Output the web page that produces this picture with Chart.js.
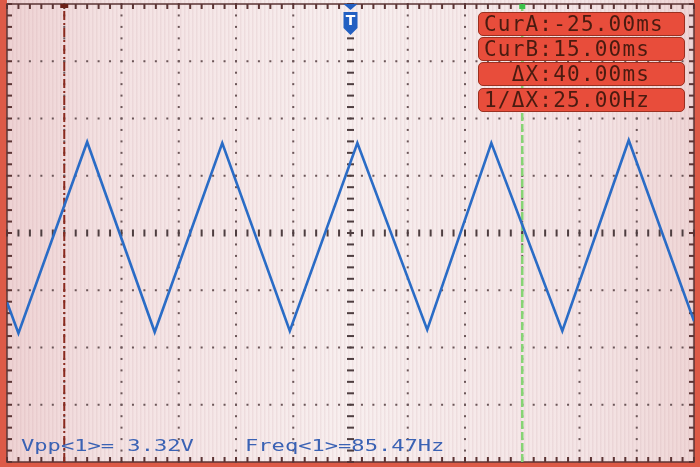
<!DOCTYPE html>
<html>
<head>
<meta charset="utf-8">
<script src="https://cdn.jsdelivr.net/npm/chart.js@4.4.0/dist/chart.umd.min.js"></script>
<style>
html, body { margin: 0; padding: 0; background: #dd5a47; }
#wrap { position: relative; width: 700px; height: 467px; overflow: hidden; }
#scope { position: absolute; left: 0; top: 0; }
.readout {
    position: absolute; left: 478px; width: 207px; height: 24px;
    background: #e84d3b; border: 1px solid #9a3020; border-radius: 5px;
    box-sizing: border-box; padding-left: 5px;
    font-family: 'DejaVu Sans Mono', monospace; font-size: 21px; line-height: 23px;
    letter-spacing: 1.2px; color: #4a1b10; white-space: pre;
}
.meas {
    position: absolute; top: 437px;
    font-family: 'DejaVu Sans Mono', monospace; font-size: 16px; line-height: 18px;
    color: #3a62b4; white-space: pre; transform-origin: left top; transform: scaleX(1.38);
}
</style>
</head>
<body>
<div id="wrap">
    <canvas id="scope" width="700" height="467"></canvas>
</div>
<script>
// --- data (time in ms, CH1 in volts, 5 ms/div, 1 V/div) ---
const timeMs   = [-30, -29.0, -23.0, -17.1, -11.2, -5.3, 0.6, 6.7, 12.3, 18.5, 24.3, 30];
const ch1Volts = [-1.21, -1.75, 1.59, -1.73, 1.57, -1.71, 1.57, -1.69, 1.57, -1.71, 1.62, -1.54];

const cursorA = -25;   // ms
const cursorB = 15;    // ms
const triggerPos = 0;  // ms

const readouts = ['CurA:-25.00ms', 'CurB:15.00ms', '  ΔX:40.00ms', '1/ΔX:25.00Hz'];
const readoutTops = [12, 37, 62, 88];
const measures = ['Vpp<1>= 3.32V', 'Freq<1>=85.47Hz'];
const measureLefts = [21, 245];

// readout boxes + measurement text
const wrap = document.getElementById('wrap');
readouts.forEach((txt, i) => {
    const d = document.createElement('div');
    d.className = 'readout';
    d.style.top = readoutTops[i] + 'px';
    d.textContent = txt;
    wrap.appendChild(d);
});
measures.forEach((txt, i) => {
    const d = document.createElement('div');
    d.className = 'meas';
    d.style.left = measureLefts[i] + 'px';
    d.textContent = txt;
    wrap.appendChild(d);
});

// graticule, background, trigger marker
const graticule = {
    id: 'graticule',
    beforeDraw(chart) {
        const { ctx, chartArea: a } = chart;
        ctx.save();
        ctx.fillStyle = '#dd5a47';
        ctx.fillRect(0, 0, chart.width, chart.height);
        const g = ctx.createLinearGradient(a.left, 0, a.right, 0);
        g.addColorStop(0, '#eed2d3');
        g.addColorStop(0.15, '#f4e2e3');
        g.addColorStop(0.5, '#f8efef');
        g.addColorStop(0.85, '#f4e4e5');
        g.addColorStop(1, '#efd6d6');
        ctx.fillStyle = g;
        ctx.fillRect(a.left, 0, a.right - a.left, a.bottom);
        // photo moire stripes
        ctx.fillStyle = 'rgba(185,140,150,0.13)';
        for (let x = a.left + 1; x < a.right; x += 4) ctx.fillRect(x, 0, 1.5, a.bottom);
        ctx.restore();
    },
    beforeDatasetsDraw(chart) {
        const { ctx, chartArea: a, scales: { x, y } } = chart;
        ctx.save();
        // dotted major lines
        ctx.fillStyle = '#6b5658';
        for (let t = -25; t <= 25; t += 5) {
            if (t === 0) continue;
            const px = x.getPixelForValue(t);
            for (let v = -4; v <= 4.001; v += 0.2) {
                ctx.fillRect(px - 1, y.getPixelForValue(v) - 1, 2, 2);
            }
        }
        for (let v = -3; v <= 3; v += 1) {
            if (v === 0) continue;
            const py = y.getPixelForValue(v);
            for (let t = -30; t <= 30.001; t += 1) {
                ctx.fillRect(x.getPixelForValue(t) - 1, py - 1, 2, 2);
            }
        }
        // centre axes with small ticks
        ctx.fillStyle = '#4e3e40';
        const cx = x.getPixelForValue(0), cy = y.getPixelForValue(0);
        for (let v = -4; v <= 4.001; v += 0.2) {
            ctx.fillRect(cx - 3.5, y.getPixelForValue(v) - 1, 7, 2);
        }
        for (let t = -30; t <= 30.001; t += 1) {
            ctx.fillRect(x.getPixelForValue(t) - 1, cy - 3.5, 2, 7);
        }
        // border + edge ticks
        ctx.strokeStyle = '#5b3434';
        ctx.lineWidth = 1.5;
        ctx.strokeRect(a.left, a.top, a.right - a.left, a.bottom - a.top);
        ctx.fillStyle = '#5b3434';
        for (let t = -30; t <= 30.001; t += 1) {
            const px = x.getPixelForValue(t);
            ctx.fillRect(px - 1, a.top, 2, 5);
            ctx.fillRect(px - 1, a.bottom - 5, 2, 5);
        }
        for (let v = -4; v <= 4.001; v += 0.2) {
            const py = y.getPixelForValue(v);
            ctx.fillRect(a.left, py - 1, 5, 2);
            ctx.fillRect(a.right - 5, py - 1, 5, 2);
        }
        ctx.restore();
    },
    afterDatasetsDraw(chart) {
        const { ctx, chartArea: a, scales: { x } } = chart;
        const tx = x.getPixelForValue(triggerPos);
        ctx.save();
        ctx.fillStyle = '#2360c2';
        // small arrow at the top
        ctx.beginPath();
        ctx.moveTo(tx - 7, a.top);
        ctx.lineTo(tx + 7, a.top);
        ctx.lineTo(tx, a.top + 6);
        ctx.closePath();
        ctx.fill();
        // shield with T
        ctx.beginPath();
        ctx.moveTo(tx - 7, 12);
        ctx.lineTo(tx + 7, 12);
        ctx.lineTo(tx + 7, 28);
        ctx.lineTo(tx, 35);
        ctx.lineTo(tx - 7, 28);
        ctx.closePath();
        ctx.fill();
        ctx.fillStyle = '#ffffff';
        ctx.font = 'bold 14px "DejaVu Sans"';
        ctx.textAlign = 'center';
        ctx.textBaseline = 'middle';
        ctx.fillText('T', tx, 21);
        // cursor markers on top edge
        ctx.fillStyle = '#6a2018';
        ctx.fillRect(x.getPixelForValue(cursorA) - 4, a.top, 8, 4);
        ctx.fillStyle = '#3cc24a';
        ctx.fillRect(x.getPixelForValue(cursorB) - 3, a.top, 6, 5);
        ctx.restore();
    }
};

const trace = timeMs.map((t, i) => ({ x: t, y: ch1Volts[i] }));

new Chart(document.getElementById('scope'), {
    type: 'line',
    data: {
        datasets: [
            {
                label: 'CH1',
                data: trace,
                borderColor: '#2a6cc6',
                borderWidth: 2.6,
                pointRadius: 0,
                tension: 0,
                order: 0
            },
            {
                label: 'CurA',
                data: [{ x: cursorA, y: -4 }, { x: cursorA, y: 4 }],
                borderColor: '#8a2a1e',
                borderWidth: 2,
                borderDash: [9, 3, 2, 3],
                pointRadius: 0,
                order: 1
            },
            {
                label: 'CurB',
                data: [{ x: cursorB, y: -4 }, { x: cursorB, y: 4 }],
                borderColor: '#86d474',
                borderWidth: 2.5,
                borderDash: [8, 3],
                pointRadius: 0,
                order: 1
            }
        ]
    },
    options: {
        responsive: false,
        animation: false,
        devicePixelRatio: 1,
        layout: { autoPadding: false, padding: { left: 7, right: 6, top: 4, bottom: 5 } },
        scales: {
            x: { type: 'linear', min: -30, max: 30, display: false },
            y: { type: 'linear', min: -4, max: 4, display: false }
        },
        plugins: { legend: { display: false }, tooltip: { enabled: false } }
    },
    plugins: [graticule]
});
</script>
</body>
</html>
